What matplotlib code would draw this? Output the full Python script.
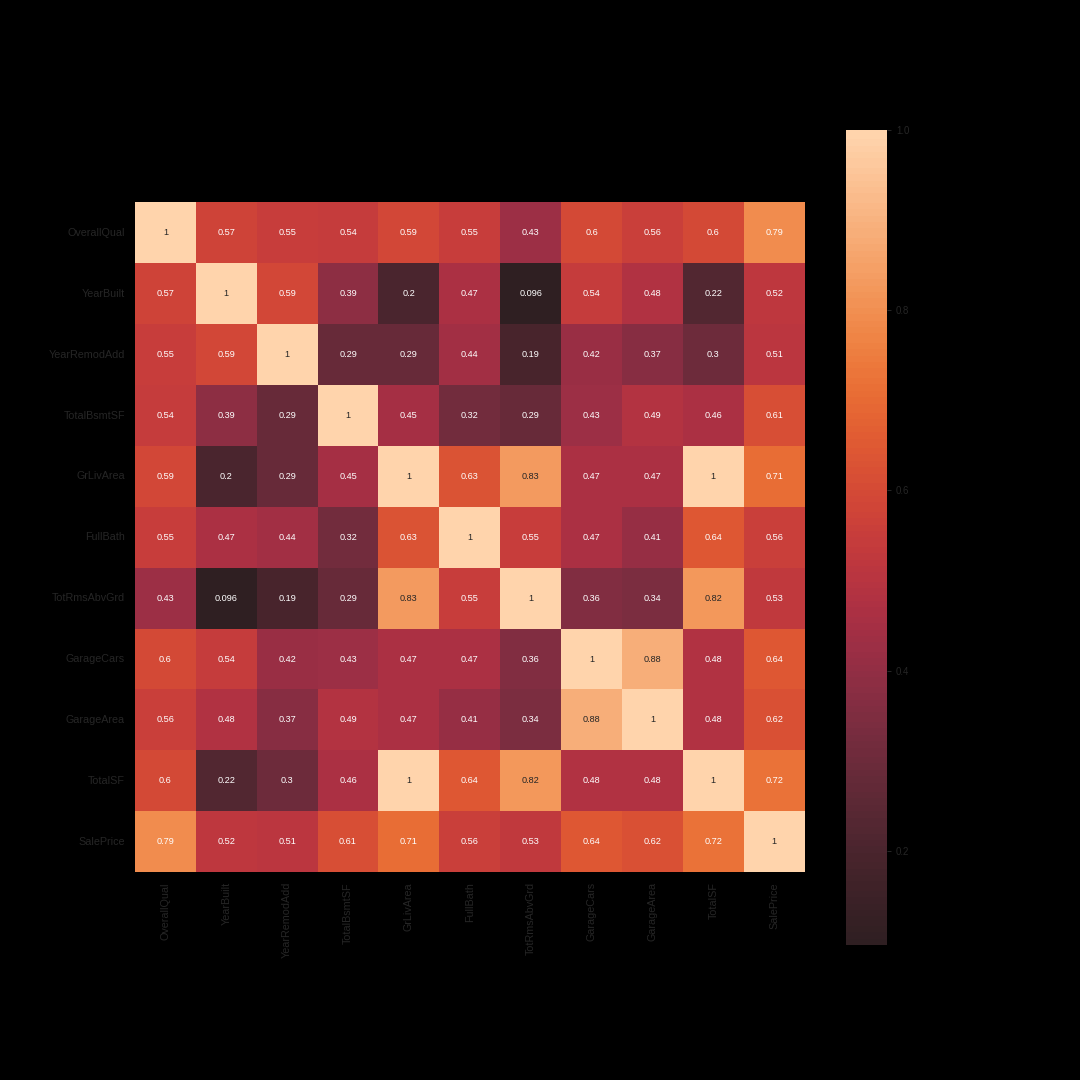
import numpy as np
import pandas as pd
import matplotlib
matplotlib.use("Agg")
import matplotlib.pyplot as plt
import seaborn as sns

plt.rcParams['font.family'] = ['Liberation Sans', 'DejaVu Sans']

# correlation of the top features with SalePrice
cols = ['OverallQual', 'YearBuilt', 'YearRemodAdd', 'TotalBsmtSF', 'GrLivArea',
        'FullBath', 'TotRmsAbvGrd', 'GarageCars', 'GarageArea', 'TotalSF', 'SalePrice']

r_overallqual = [1, 0.57, 0.55, 0.54, 0.59, 0.55, 0.43, 0.6, 0.56, 0.6, 0.79]
r_yearbuilt = [0.57, 1, 0.59, 0.39, 0.2, 0.47, 0.096, 0.54, 0.48, 0.22, 0.52]
r_yearremod = [0.55, 0.59, 1, 0.29, 0.29, 0.44, 0.19, 0.42, 0.37, 0.3, 0.51]
r_totalbsmt = [0.54, 0.39, 0.29, 1, 0.45, 0.32, 0.29, 0.43, 0.49, 0.46, 0.61]
r_grlivarea = [0.59, 0.2, 0.29, 0.45, 1, 0.63, 0.83, 0.47, 0.47, 1, 0.71]
r_fullbath = [0.55, 0.47, 0.44, 0.32, 0.63, 1, 0.55, 0.47, 0.41, 0.64, 0.56]
r_totrms = [0.43, 0.096, 0.19, 0.29, 0.83, 0.55, 1, 0.36, 0.34, 0.82, 0.53]
r_garagecars = [0.6, 0.54, 0.42, 0.43, 0.47, 0.47, 0.36, 1, 0.88, 0.48, 0.64]
r_garagearea = [0.56, 0.48, 0.37, 0.49, 0.47, 0.41, 0.34, 0.88, 1, 0.48, 0.62]
r_totalsf = [0.6, 0.22, 0.3, 0.46, 1, 0.64, 0.82, 0.48, 0.48, 1, 0.72]
r_saleprice = [0.79, 0.52, 0.51, 0.61, 0.71, 0.56, 0.53, 0.64, 0.62, 0.72, 1]

corr = pd.DataFrame([r_overallqual, r_yearbuilt, r_yearremod, r_totalbsmt, r_grlivarea,
                     r_fullbath, r_totrms, r_garagecars, r_garagearea, r_totalsf,
                     r_saleprice], index=cols, columns=cols)

fig, ax = plt.subplots(figsize=(12, 12), dpi=90)
fig.patch.set_facecolor('black')
fig.subplots_adjust(bottom=0.125)

sns.heatmap(corr, center=0, annot=True, square=True, ax=ax,
            annot_kws={'size': 7.3})

ax.tick_params(colors='#262626', labelsize=8.6, length=0, pad=8)
cbar = ax.collections[0].colorbar
cbar.ax.tick_params(colors='#262626', labelsize=7.7)

plt.savefig('out.png', facecolor='black')
